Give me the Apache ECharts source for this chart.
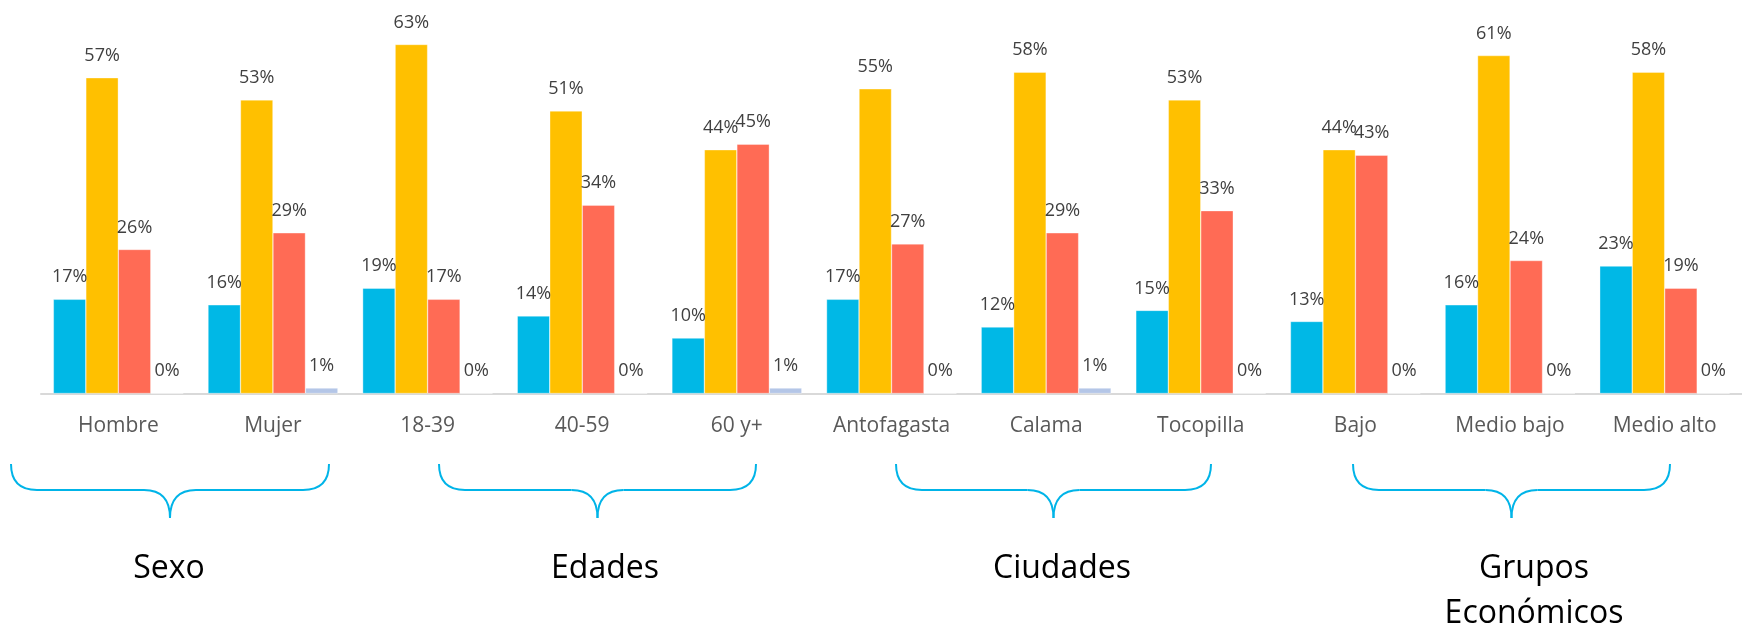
<!DOCTYPE html>
<html>
<head>
<meta charset="utf-8">
<script src="https://cdn.jsdelivr.net/npm/echarts@6/dist/echarts.min.js"></script>
<style>
  html, body { margin: 0; padding: 0; background: #fff; }
  #chart { width: 1742px; height: 626px; }
</style>
</head>
<body>
<div id="chart"></div>
<script>
  const categories = ["Hombre", "Mujer", "18-39", "40-59", "60 y+", "Antofagasta", "Calama", "Tocopilla", "Bajo", "Medio bajo", "Medio alto"];
  const serieAzul = [17, 16, 19, 14, 10, 17, 12, 15, 13, 16, 23];
  const serieAmarilla = [57, 53, 63, 51, 44, 55, 58, 53, 44, 61, 58];
  const serieRoja = [26, 29, 17, 34, 45, 27, 29, 33, 43, 24, 19];
  const serieGris = [0, 1, 0, 0, 1, 0, 1, 0, 0, 0, 0];
  const groupNames = ["Sexo", "Edades", "Ciudades", "Grupos\nEconómicos"];

  // brace / title placement (pixels)
  const braceX = [[11, 329], [439, 756], [896, 1211], [1353, 1670]];
  const titleX = [169, 605, 1062, 1534];

  const colors = ["#00B8E6", "#FFC000", "#FF6B55", "#B4C6E7"];

  const chart = echarts.init(document.getElementById("chart"));

  function makeSeries(data, color) {
    return {
      type: "bar",
      data: data,
      barGap: "0%",
      barCategoryGap: "16%",
      itemStyle: {
        color: color,
        borderColor: "rgba(255,255,255,0.7)",
        borderWidth: 0.5,
      },
      label: {
        show: true,
        position: "top",
        distance: 13,
        formatter: "{c}%",
        fontFamily: "Open Sans",
        fontSize: 18,
        color: "#404040",
      },
    };
  }

  // curly brace built from curves and straight lines
  function brace(x0, x1) {
    const top = 464, mid = 490, tip = 518, r = 26;
    const cx = (x0 + x1) / 2;
    const style = { stroke: "#00B4E8", lineWidth: 2, fill: null };
    const curve = (a, b, c, d, e, f) => ({
      type: "bezierCurve",
      shape: { x1: a, y1: b, cpx1: c, cpy1: d, x2: e, y2: f },
      style: style,
    });
    const line = (a, b, c, d) => ({
      type: "line",
      shape: { x1: a, y1: b, x2: c, y2: d },
      style: style,
    });
    return {
      type: "group",
      children: [
        curve(x0, top, x0, mid, x0 + r, mid),
        line(x0 + r, mid, cx - r, mid),
        curve(cx - r, mid, cx, mid, cx, tip),
        curve(cx, tip, cx, mid, cx + r, mid),
        line(cx + r, mid, x1 - r, mid),
        curve(x1 - r, mid, x1, mid, x1, top),
      ],
    };
  }

  const graphics = braceX.map(([x0, x1]) => brace(x0, x1));
  groupNames.forEach((name, i) => {
    graphics.push({
      type: "text",
      x: titleX[i],
      y: 546,
      style: {
        text: name,
        fontFamily: "Open Sans",
        fontSize: 32,
        lineHeight: 45,
        fill: "#000",
        align: "center",
        verticalAlign: "top",
      },
    });
  });

  chart.setOption({
    animation: false,
    grid: { left: 41, width: 1709, top: 5.7, height: 387.8 },
    xAxis: {
      type: "category",
      data: categories,
      axisLine: { lineStyle: { color: "#D9D9D9", width: 2 } },
      axisTick: { show: false },
      axisLabel: {
        margin: 22,
        fontFamily: "Open Sans",
        fontSize: 21,
        color: "#595959",
      },
    },
    yAxis: {
      type: "value",
      min: 0,
      max: 70,
      show: false,
    },
    series: [
      makeSeries(serieAzul, colors[0]),
      makeSeries(serieAmarilla, colors[1]),
      makeSeries(serieRoja, colors[2]),
      makeSeries(serieGris, colors[3]),
    ],
    graphic: graphics,
  });
</script>
</body>
</html>
